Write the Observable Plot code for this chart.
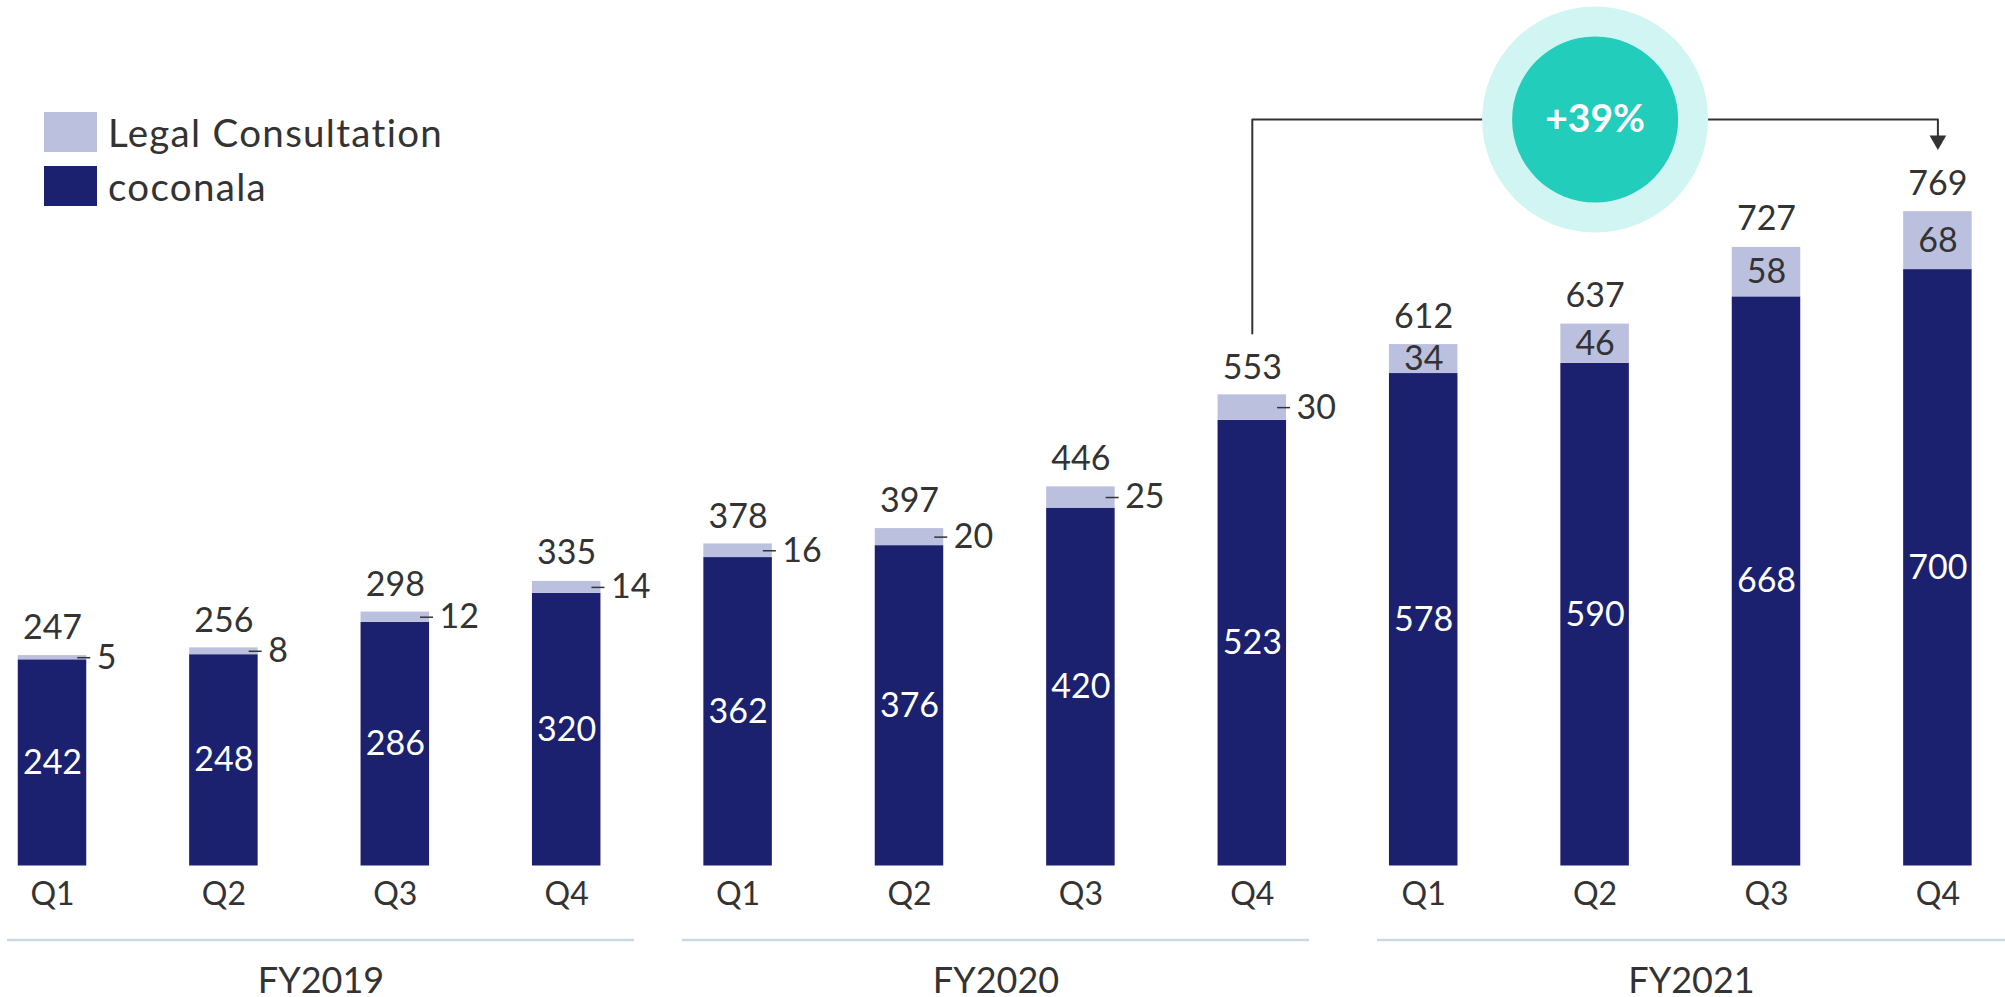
<!DOCTYPE html>
<html><head><meta charset="utf-8">
<script src="https://cdn.jsdelivr.net/npm/d3@7"></script>
<script src="https://cdn.jsdelivr.net/npm/@observablehq/plot@0.6"></script>
<style>
html,body{margin:0;padding:0;background:#fff;}
#wrap{position:relative;width:2005px;height:997px;font-family:Lato,"Noto Sans",sans-serif;color:#333;}
#legend{position:absolute;left:44px;top:112px;}
.item{display:flex;align-items:center;height:40px;margin-bottom:14px;font-size:38.5px;line-height:40px;letter-spacing:1.3px;}
.sw{width:53px;height:40px;margin-right:11px;flex:none;}
</style></head><body>
<div id="wrap"><div id="chart"></div><div id="legend"></div></div>
<script>
// ---- data ----
const years = ["FY2019", "FY2020", "FY2021"];
const quarters = ["Q1", "Q2", "Q3", "Q4"];
const seriesNames = ["coconala", "Legal Consultation"];
const seriesColors = ["#1b216e", "#bcc0df"];
const coconala = [242, 248, 286, 320, 362, 376, 420, 523, 578, 590, 668, 700];
const legal = [5, 8, 12, 14, 16, 20, 25, 30, 34, 46, 58, 68];
const totals = [247, 256, 298, 335, 378, 397, 446, 553, 612, 637, 727, 769];
const growthFrom = 7, growthTo = 11;

// ---- layout ----
const W = 2005, H = 997;
const step = 171.4, first = 52, k = 0.852, base = 865.5;
const hw = 34.25 / step;          // half bar width in x units
const u = p => p / step;          // px -> x units
const idx = d3.range(coconala.length);
const rows = [];
idx.forEach(i => {
  rows.push({i, series: seriesNames[0], value: coconala[i]});
  rows.push({i, series: seriesNames[1], value: legal[i]});
});
const inside = i => legal[i] * k >= 28;
const legalMid = i => coconala[i] + legal[i] / 2;
const sepStart = [u(7 - first), u(682 - first), u(1377 - first)];
const sepEnd = [u(634 - first), u(1309 - first), u(2005 - first)];
const level = (base - 119) / k;
const arrowY = (base - 139.8) / k;
const startY = totals[growthFrom] + 72;
const growth = Math.round((totals[growthTo] / totals[growthFrom] - 1) * 100);
const mid = (growthFrom + growthTo) / 2;
const conn = [
  {x: growthFrom, y: startY}, {x: growthFrom, y: level},
  {x: growthTo, y: level}, {x: growthTo, y: arrowY}
];
const NUM = 34;

const chart = Plot.plot({
  width: W, height: H,
  marginLeft: 0, marginRight: 0, marginTop: 0, marginBottom: H - base,
  style: {fontFamily: "Lato, 'Noto Sans', sans-serif", color: "#333", background: "white", overflow: "visible"},
  x: {type: "linear", domain: [u(-first), u(W - first)], range: [0, W], axis: null},
  y: {domain: [0, base / k], range: [base, 0], axis: null},
  color: {domain: seriesNames, range: seriesColors},
  marks: [
    Plot.rectY(rows, {x1: d => d.i - hw, x2: d => d.i + hw, y: "value", fill: "series"}),
    Plot.text(idx, {x: i => i, y: i => coconala[i] / 2, text: i => String(coconala[i]), fill: "white", fontSize: NUM}),
    Plot.text(idx.filter(inside), {x: i => i, y: legalMid, text: i => String(legal[i]), fill: "#333", fontSize: NUM}),
    Plot.ruleY(idx.filter(i => !inside(i)), {y: legalMid, x1: i => i + hw - u(9), x2: i => i + hw + u(4), stroke: "#333", strokeWidth: 1.5}),
    Plot.text(idx.filter(i => !inside(i)), {x: i => i + hw, y: legalMid, dx: 10, textAnchor: "start", text: i => String(legal[i]), fill: "#333", fontSize: NUM}),
    Plot.text(idx, {x: i => i, y: i => totals[i], dy: -27, text: i => String(totals[i]), fill: "#333", fontSize: NUM}),
    Plot.axisX(idx, {tickFormat: i => quarters[i % 4], tickSize: 0, tickPadding: 16, fontSize: 32, label: null}),
    Plot.ruleY(d3.range(years.length), {y: () => 0, x1: j => sepStart[j], x2: j => sepEnd[j], dy: 74, stroke: "#c9d9e6", strokeWidth: 2.5}),
    Plot.text(d3.range(years.length), {x: j => (sepStart[j] + sepEnd[j]) / 2, y: () => 0, dy: 115, text: j => years[j], fill: "#333", fontSize: 36}),
    Plot.line(conn, {x: "x", y: "y", stroke: "#333", strokeWidth: 2}),
    Plot.dot([{x: growthTo, y: arrowY}], {x: "x", y: "y", symbol: "triangle", r: 6.2, rotate: 180, fill: "#333", stroke: "none"}),
    Plot.dot([{x: mid, y: level}], {x: "x", y: "y", r: 113, fill: "#d0f5f2", stroke: "none"}),
    Plot.dot([{x: mid, y: level}], {x: "x", y: "y", r: 83, fill: "#22cdbb", stroke: "none"}),
    Plot.text([{x: mid, y: level}], {x: "x", y: "y", text: () => `+${growth}%`, fill: "white", fontSize: 39, fontWeight: 700})
  ]
});
document.getElementById("chart").appendChild(chart);

// ---- legend ----
const lg = document.getElementById("legend");
[1, 0].forEach(s => {
  const item = document.createElement("div");
  item.className = "item";
  const sw = document.createElement("div");
  sw.className = "sw";
  sw.style.background = seriesColors[s];
  const t = document.createElement("span");
  t.textContent = seriesNames[s];
  item.appendChild(sw); item.appendChild(t);
  lg.appendChild(item);
});
</script>
</body></html>
